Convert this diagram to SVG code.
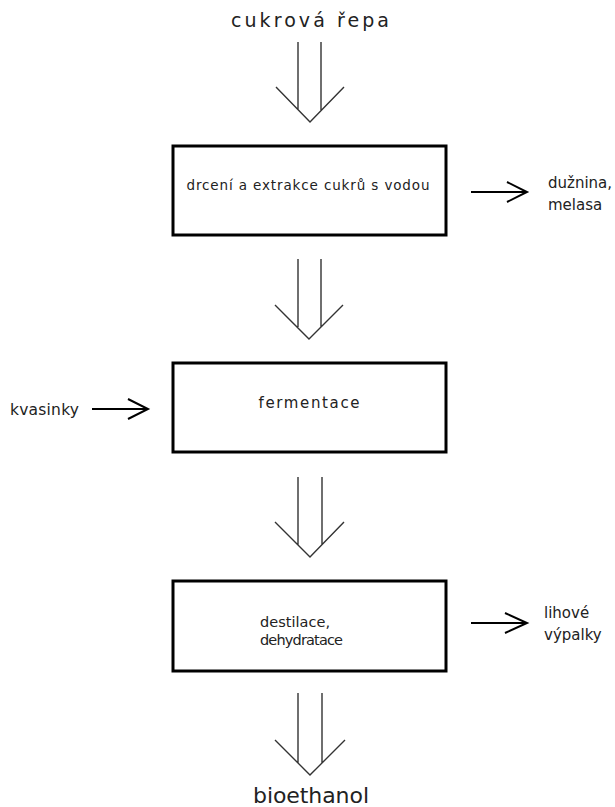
<svg xmlns="http://www.w3.org/2000/svg" width="615" height="807" viewBox="0 0 615 807">
<style>
.box{fill:#fff;stroke:#000;stroke-width:3;}
.t{font-family:"DejaVu Sans","Liberation Sans",sans-serif;fill:#222;}
.big{stroke:#333;stroke-width:1.4;fill:none;}
.side{stroke:#000;stroke-width:2;fill:none;}
</style>
<rect width="615" height="807" fill="#fff"/>
<text class="t" x="310" y="27" font-size="19" text-anchor="middle" textLength="158" lengthAdjust="spacing">cukrová řepa</text>
<g id="connectors">
<g class="big"><path d="M298 42V110M321 42V110M276 87L310 122L344 87"/></g>
<g class="big"><path d="M298 259V327M321 259V327M275 305L309 339L343 305"/></g>
<g class="big"><path d="M298 477V545M322 477V545M275 522L310 557L344 522"/></g>
<g class="big"><path d="M298 693V763M322 693V763M275 740L310 775L345 740"/></g>
<g class="side"><path d="M471 192H527M507 182L527 192L507 202"/></g>
<g class="side"><path d="M92 409H148M128 399L148 409L128 419"/></g>
<g class="side"><path d="M471 623H527M505 613L527 623L505 633"/></g>
</g>
<g id="n1"><rect class="box" x="173" y="146" width="273" height="89"/>
<text class="t" x="308" y="190" font-size="13.5" text-anchor="middle" textLength="243" lengthAdjust="spacing">drcení a extrakce cukrů s vodou</text></g>
<g id="n2"><rect class="box" x="173" y="363" width="273" height="89"/>
<text class="t" x="309" y="408" font-size="15" text-anchor="middle" textLength="101" lengthAdjust="spacing">fermentace</text></g>
<g id="n3"><rect class="box" x="173" y="581" width="273" height="90"/>
<text class="t" x="260" y="627" font-size="14.5" textLength="70" lengthAdjust="spacing">destilace,</text>
<text class="t" x="260" y="645" font-size="14.5" textLength="83" lengthAdjust="spacing">dehydratace</text></g>
<g id="out1"><text class="t" x="548" y="188" font-size="15">dužnina,</text><text class="t" x="548" y="210" font-size="15">melasa</text></g>
<g id="in2"><text class="t" x="10" y="415" font-size="15.5" textLength="69" lengthAdjust="spacing">kvasinky</text></g>
<g id="out3"><text class="t" x="544" y="618" font-size="15">lihové</text><text class="t" x="544" y="640" font-size="15">výpalky</text></g>
<g id="end"><text class="t" x="311" y="803" font-size="22" text-anchor="middle" textLength="116" lengthAdjust="spacing">bioethanol</text></g>
</svg>
